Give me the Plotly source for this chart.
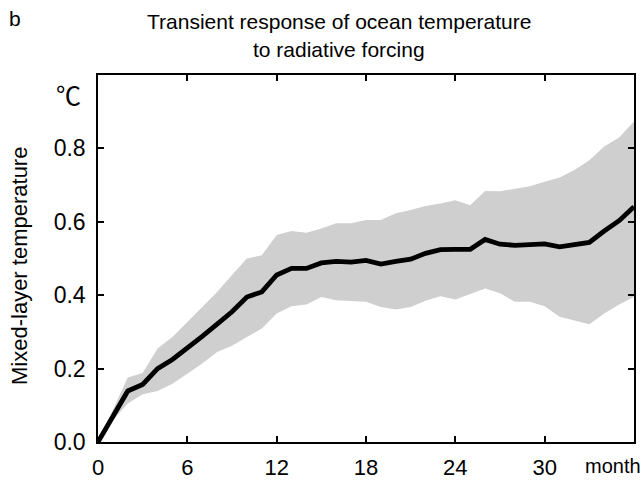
import plotly.graph_objects as go

months = list(range(0, 37))
mean_temp = [0, 0.07, 0.139, 0.157, 0.2, 0.225, 0.255, 0.288, 0.321, 0.355,
             0.395, 0.409, 0.455, 0.473, 0.473, 0.488, 0.492, 0.49, 0.495,
             0.485, 0.492, 0.498, 0.514, 0.524, 0.525, 0.525, 0.552, 0.539,
             0.536, 0.538, 0.54, 0.532, 0.538, 0.544, 0.575, 0.603, 0.641]
upper_temp = [0, 0.086, 0.176, 0.188, 0.255, 0.286, 0.327, 0.368, 0.409, 0.455,
              0.50, 0.509, 0.564, 0.575, 0.57, 0.582, 0.596, 0.596, 0.605,
              0.605, 0.623, 0.632, 0.643, 0.65, 0.659, 0.645, 0.684, 0.683,
              0.691, 0.697, 0.709, 0.721, 0.741, 0.768, 0.805, 0.83, 0.873]
lower_temp = [0, 0.059, 0.105, 0.13, 0.139, 0.159, 0.186, 0.214, 0.245, 0.262,
              0.286, 0.309, 0.35, 0.37, 0.375, 0.395, 0.386, 0.384, 0.382,
              0.368, 0.361, 0.368, 0.385, 0.397, 0.388, 0.403, 0.418, 0.405,
              0.382, 0.382, 0.37, 0.341, 0.332, 0.321, 0.35, 0.375, 0.395]
x_ticks = [0, 6, 12, 18, 24, 30]
y_ticks = [0.0, 0.2, 0.4, 0.6, 0.8]
y_ticklabels = ["0.0", "0.2", "0.4", "0.6", "0.8"]

W, H = 644, 480
ML, MR, MT, MB = 98, 10, 75, 38
PW, PH = W - ML - MR, H - MT - MB

def px(x):
    return (x - ML) / PW

def py(y):
    return (H - MB - y) / PH

FONT = "Liberation Sans, Arial, sans-serif"

fig = go.Figure()
fig.add_trace(go.Scatter(x=months, y=upper_temp, mode="lines",
                         line=dict(width=0, color="#cfcfcf"), showlegend=False,
                         hoverinfo="skip"))
fig.add_trace(go.Scatter(x=months, y=lower_temp, mode="lines",
                         line=dict(width=0, color="#cfcfcf"), fill="tonexty",
                         fillcolor="#cfcfcf", showlegend=False, hoverinfo="skip"))
fig.add_trace(go.Scatter(x=months, y=mean_temp, mode="lines",
                         line=dict(width=4.8, color="black"), showlegend=False))

fig.update_layout(
    width=W, height=H,
    margin=dict(l=ML, r=MR, t=MT, b=MB, autoexpand=False),
    paper_bgcolor="white", plot_bgcolor="white",
    font=dict(family=FONT, color="black", size=22),
    xaxis=dict(range=[0, 36], tickvals=x_ticks, ticks="inside", ticklen=6,
               tickwidth=1.5, tickcolor="black", showline=True, linecolor="black",
               linewidth=1.5, mirror="ticks", showgrid=False, zeroline=False,
               automargin=False,
               tickfont=dict(size=22, family=FONT), ticklabelstandoff=5),
    yaxis=dict(range=[0, 1.0], tickvals=y_ticks, ticktext=y_ticklabels,
               ticks="inside", ticklen=6, tickwidth=1.5, tickcolor="black",
               showline=True, linecolor="black", linewidth=1.5, mirror="ticks",
               showgrid=False, zeroline=False, automargin=False,
               tickfont=dict(size=23, family=FONT), ticklabelstandoff=6),
)

ann = [
    dict(text="b", x=px(15), y=py(19), size=21),
    dict(text="Transient response of ocean temperature", x=px(339), y=py(21), size=21),
    dict(text="to radiative forcing", x=px(339), y=py(49), size=21),
    dict(text="month", x=px(612.5), y=py(466), size=20),
]
for a in ann:
    fig.add_annotation(text=a["text"], x=a["x"], y=a["y"], xref="paper", yref="paper",
                       showarrow=False, xanchor="center", yanchor="middle",
                       font=dict(size=a["size"], family=FONT, color="black"))
fig.add_annotation(text="Mixed-layer temperature", x=px(19.5), y=py(266.5),
                   xref="paper", yref="paper", showarrow=False, textangle=-90,
                   xanchor="center", yanchor="middle",
                   font=dict(size=22, family=FONT, color="black"))
fig.add_annotation(text="℃", x=px(68.5), y=py(94), xref="paper", yref="paper",
                   showarrow=False, xanchor="center", yanchor="middle",
                   font=dict(size=25, family="Noto Sans CJK SC, DejaVu Sans", color="black"))

fig.write_html("out.html")
